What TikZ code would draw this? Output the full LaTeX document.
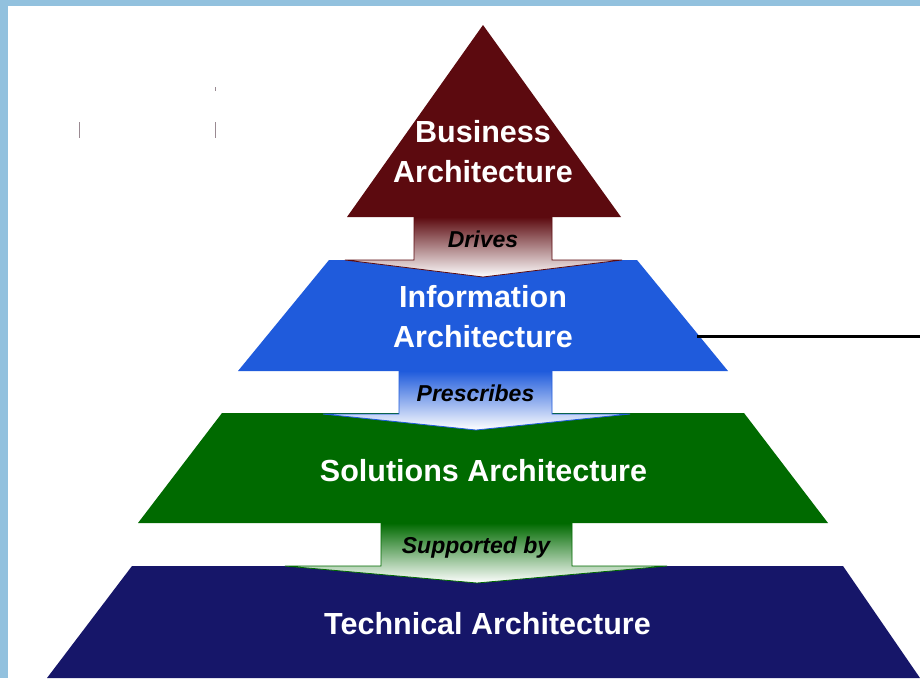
\documentclass[tikz,border=0pt]{standalone}
\usepackage{fontspec}
\setmainfont{Liberation Sans}
\usetikzlibrary{calc}

\definecolor{bizred}{HTML}{5C0A0F}
\definecolor{infoblue}{HTML}{1F5BDC}
\definecolor{solgreen}{HTML}{006A00}
\definecolor{technavy}{HTML}{161669}
\definecolor{frameblue}{HTML}{92C1DE}
\definecolor{markgray}{HTML}{9A8A92}

\tikzset{
  layertext/.style={text=white,align=center,
    font=\fontsize{30.5}{40}\selectfont\bfseries},
  arrowtext/.style={text=black,anchor=base,
    font=\fontsize{23}{28}\selectfont\bfseries\itshape},
}

\begin{document}
\begin{tikzpicture}[x=1pt,y=-1pt]

\fill[frameblue] (0,0) rectangle (920,678);
\fill[white] (8,6) rectangle (920,678);
\useasboundingbox (0,0) rectangle (920,678);

% stray marks
\draw[markgray,line width=1pt] (79,122) -- (79,138);
\draw[markgray,line width=1pt] (215,87) -- (215,91);
\draw[markgray,line width=1pt] (215,122) -- (215,138);

\coordinate (b1) at (483, 25);
\coordinate (b2) at (621,217);
\coordinate (b3) at (347,217);

\coordinate (i1) at (329,260);
\coordinate (i2) at (637,260);
\coordinate (i3) at (728,371);
\coordinate (i4) at (238,371);

\coordinate (s1) at (222,413);
\coordinate (s2) at (744,413);
\coordinate (s3) at (828,523);
\coordinate (s4) at (138,523);

\coordinate (t1) at (132,566);
\coordinate (t2) at (843,566);
\coordinate (t3) at (920,678);
\coordinate (t4) at ( 47,678);

\fill[bizred]   (b1)--(b2)--(b3)--cycle;
\fill[infoblue] (i1)--(i2)--(i3)--(i4)--cycle;
\fill[solgreen] (s1)--(s2)--(s3)--(s4)--cycle;
\fill[technavy] (t1)--(t2)--(t3)--(t4)--cycle;

\draw[bizred,line width=0.8pt,top color=bizred,bottom color=white]
  (414,217)--(414,260)--(345,260)--(483,277)--(622,260)--(552,260)--(552,217)--cycle;
\draw[infoblue,line width=0.8pt,top color=infoblue,bottom color=white]
  (399,371)--(399,414)--(323,414)--(476,430)--(630,414)--(552,414)--(552,371)--cycle;
\draw[solgreen,line width=0.8pt,top color=solgreen,bottom color=white]
  (381,523)--(381,566)--(285,566)--(477,583)--(667,566)--(572,566)--(572,523)--cycle;

\node[layertext] (business) at (483,152) {Business\\Architecture};
\node[layertext] (information) at (483,317) {Information\\Architecture};
\node[layertext,anchor=base] (solutions) at (483.5,481) {Solutions Architecture};
\node[layertext,anchor=base] (technical) at (487.5,634) {Technical Architecture};

\node[arrowtext] (drives) at (483,247) {Drives};
\node[arrowtext] (prescribes) at (475.5,401) {Prescribes};
\node[arrowtext] (supported) at (476,553) {Supported by};

\coordinate (lineL) at (697,336);
\coordinate (lineR) at (920,336);
\draw[line width=3pt] (lineL) -- (lineR);

\end{tikzpicture}
\end{document}
